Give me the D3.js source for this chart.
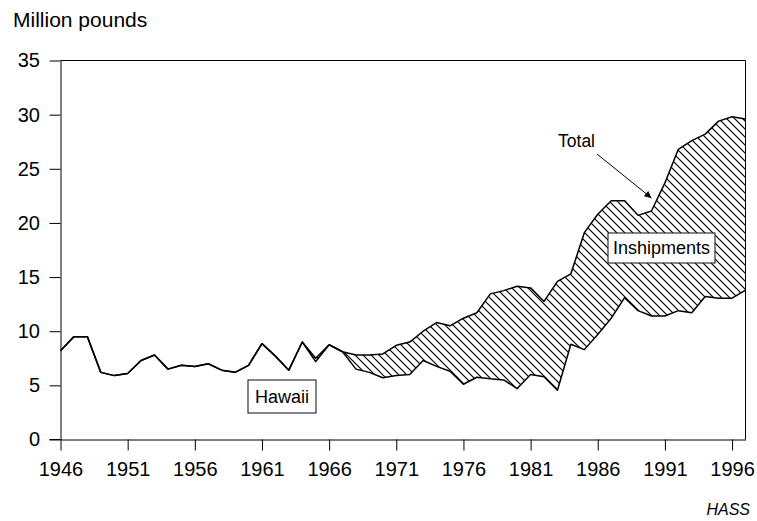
<!DOCTYPE html>
<html>
<head>
<meta charset="utf-8">
<script src="https://cdn.jsdelivr.net/npm/d3@7"></script>
<style>
body { margin: 0; background: #fff; }
text { font-family: "Liberation Sans", Arial, sans-serif; fill: #000; }
</style>
</head>
<body>
<div id="chart"></div>
<script>
// years 1946 - 1997
var years = d3.range(1946, 1998);

// Hawaii production, million pounds
var hawaii = [8.2, 9.5, 9.5, 6.2, 5.9, 6.1, 7.3, 7.8, 6.5, 6.85,
	6.75, 7.0, 6.4, 6.2, 6.85, 8.85, 7.7, 6.4, 9.0, 7.2,
	8.75, 8.1, 6.5, 6.2, 5.7, 5.9, 6.0, 7.3, 6.75, 6.3,
	5.1, 5.75, 5.6, 5.5, 4.7, 6.0, 5.8, 4.55, 8.8, 8.3,
	9.7, 11.2, 13.1, 11.9, 11.4, 11.4, 11.9, 11.7, 13.2, 13.05,
	13.05, 13.8];

// total (Hawaii + inshipments)
var total = [8.2, 9.5, 9.5, 6.2, 5.9, 6.1, 7.3, 7.8, 6.5, 6.85,
	6.75, 7.0, 6.4, 6.2, 6.85, 8.85, 7.7, 6.4, 9.0, 7.5,
	8.75, 8.1, 7.8, 7.8, 7.9, 8.7, 9.0, 10.0, 10.8, 10.5,
	11.2, 11.7, 13.45, 13.75, 14.15, 14.0, 12.75, 14.6, 15.3, 19.1,
	20.8, 22.05, 22.05, 20.7, 21.1, 23.7, 26.8, 27.6, 28.2, 29.4,
	29.8, 29.6];

var xTicks = [1946, 1951, 1956, 1961, 1966, 1971, 1976, 1981, 1986, 1991, 1996];
var yTicks = [0, 5, 10, 15, 20, 25, 30, 35];

var data = years.map(function (y, i) {
	return {year: y, hawaii: hawaii[i], total: total[i]};
});

var w = 757, h = 521;
var plotL = 60.5, plotR = 745.5, plotT = 60.5, plotB = 439.5;

var svg = d3.select("#chart").append("svg")
	.attr("width", w)
	.attr("height", h);

var x = d3.scaleLinear().domain([1946, 1997]).range([plotL, plotR]);
var y = d3.scaleLinear().domain([0, 35]).range([plotB, plotT]);

var defs = svg.append("defs");

// hatch for inshipments
var pat = defs.append("pattern")
	.attr("id", "hatch")
	.attr("patternUnits", "userSpaceOnUse")
	.attr("width", 8)
	.attr("height", 8);
pat.append("path")
	.attr("d", "M0,0 L8,8 M-2,6 L2,10 M6,-2 L10,2")
	.attr("stroke", "#000")
	.attr("stroke-width", 1.2);

var area = d3.area()
	.x(function (d) { return x(d.year); })
	.y0(function (d) { return y(d.hawaii); })
	.y1(function (d) { return y(d.total); });

svg.append("path")
	.datum(data)
	.attr("d", area)
	.attr("fill", "url(#hatch)");

var lineTotal = d3.line()
	.x(function (d) { return x(d.year); })
	.y(function (d) { return y(d.total); });
var lineHawaii = d3.line()
	.x(function (d) { return x(d.year); })
	.y(function (d) { return y(d.hawaii); });

svg.append("path")
	.datum(data)
	.attr("d", lineHawaii)
	.attr("fill", "none")
	.attr("stroke", "#000")
	.attr("stroke-width", 1.5)
	.attr("stroke-linejoin", "round");
svg.append("path")
	.datum(data)
	.attr("d", lineTotal)
	.attr("fill", "none")
	.attr("stroke", "#000")
	.attr("stroke-width", 1.5)
	.attr("stroke-linejoin", "round");

// frame top / right
svg.append("path")
	.attr("d", "M" + plotL + "," + plotT + "H" + plotR + "V" + plotB)
	.attr("fill", "none")
	.attr("stroke", "#000")
	.attr("stroke-width", 1);

// axes
var yAxis = svg.append("g")
	.attr("transform", "translate(" + plotL + ",0)")
	.call(d3.axisLeft(y).tickValues(yTicks).tickSize(11).tickSizeOuter(0).tickPadding(9.5));
var xAxis = svg.append("g")
	.attr("transform", "translate(0," + plotB + ")")
	.call(d3.axisBottom(x).tickValues(xTicks).tickFormat(d3.format("d")).tickSize(11).tickSizeOuter(0).tickPadding(11));

[yAxis, xAxis].forEach(function (a) {
	a.select(".domain").attr("stroke", "#000");
	a.selectAll(".tick line").attr("stroke", "#000");
	a.selectAll("text")
		.style("font-family", "'Liberation Sans', Arial, sans-serif")
		.style("font-size", "20px")
		.attr("fill", "#000");
});
// x axis runs out to meet the y tick
svg.append("line")
	.attr("x1", plotL - 11).attr("x2", plotL)
	.attr("y1", plotB).attr("y2", plotB)
	.attr("stroke", "#000");

// titles
svg.append("text")
	.attr("x", 13)
	.attr("y", 27)
	.style("font-size", "21px")
	.text("Million pounds");

svg.append("text")
	.attr("x", 750)
	.attr("y", 515)
	.attr("text-anchor", "end")
	.style("font-size", "16px")
	.style("font-style", "italic")
	.text("HASS");

// labelled boxes
function box(cx, cy, bw, bh, label) {
	svg.append("rect")
		.attr("x", cx - bw / 2)
		.attr("y", cy - bh / 2)
		.attr("width", bw)
		.attr("height", bh)
		.attr("fill", "#fff")
		.attr("stroke", "#333")
		.attr("stroke-width", 1.2);
	svg.append("text")
		.attr("x", cx)
		.attr("y", cy)
		.attr("dy", "0.35em")
		.attr("text-anchor", "middle")
		.style("font-size", "18px")
		.text(label);
}
box(282, 396.5, 68, 33, "Hawaii");
box(661.5, 248, 107, 30, "Inshipments");

// Total arrow
defs.append("marker")
	.attr("id", "arrow")
	.attr("viewBox", "0 0 10 10")
	.attr("refX", 10)
	.attr("refY", 5)
	.attr("markerWidth", 9)
	.attr("markerHeight", 7)
	.attr("markerUnits", "userSpaceOnUse")
	.attr("orient", "auto")
	.append("path")
	.attr("d", "M0,0 L10,5 L0,10 z")
	.attr("fill", "#000");

svg.append("line")
	.attr("x1", 597)
	.attr("y1", 154)
	.attr("x2", x(1990))
	.attr("y2", y(22.3))
	.attr("stroke", "#000")
	.attr("stroke-width", 1)
	.attr("marker-end", "url(#arrow)");

svg.append("text")
	.attr("x", 595)
	.attr("y", 147)
	.attr("text-anchor", "end")
	.style("font-size", "17.5px")
	.text("Total");
</script>
</body>
</html>
